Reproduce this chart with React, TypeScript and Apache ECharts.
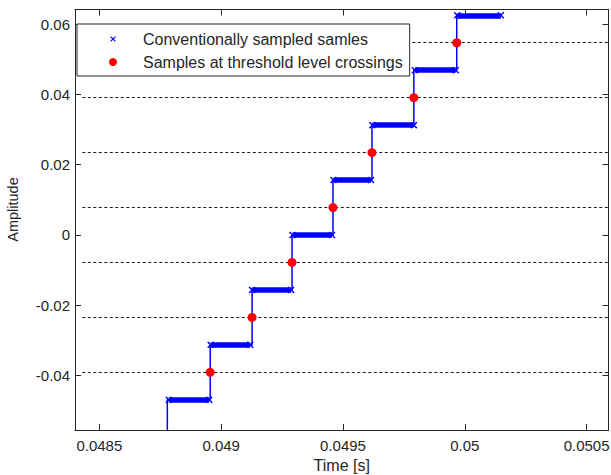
import React, { useEffect, useRef } from 'react';
import * as echarts from 'echarts';

// ---- data ----
const xTicks = [0.0485, 0.049, 0.0495, 0.05, 0.0505];
const yTicks = [-0.04, -0.02, 0, 0.02, 0.04, 0.06];

// quantized signal: level below the view, then the visible step levels
const initialLevel = -0.0625;
const stepLevels = [-0.046875, -0.03125, -0.015625, 0, 0.015625, 0.03125, 0.046875, 0.0625];
const jumpTimes = [0.048779, 0.048955, 0.049127, 0.049291, 0.049459, 0.049619, 0.049791, 0.049967];
const signalEnd = 0.050148;

// conventionally sampled samples: first / last sample time of each level
const sampleStart = [0.048785, 0.048957, 0.049127, 0.049293, 0.049461, 0.049621, 0.049795, 0.049969];
const sampleEnd = [0.048951, 0.049119, 0.049287, 0.049455, 0.049615, 0.049791, 0.049963, 0.050148];

// threshold levels (dashed) and the level-crossing samples
const thresholds = [-0.0390625, -0.0234375, -0.0078125, 0.0078125, 0.0234375, 0.0390625, 0.0546875];
const crossingTimes = [0.048955, 0.049127, 0.049291, 0.049459, 0.049619, 0.049791, 0.049967];

const X_MIN = 0.0484;
const X_MAX = 0.05059;
const Y_MIN = -0.05547;
const Y_MAX = 0.06414;
const DASH_START = 0.04843;

const FONT = 'Liberation Sans, Arial, Helvetica, sans-serif';
const TEXT = '#262626';
const BLUE = '#0000ff';
const RED = '#ff0000';

const X_PATH =
  'path://M0,1.5L1.5,0L5,3.5L8.5,0L10,1.5L6.5,5L10,8.5L8.5,10L5,6.5L1.5,10L0,8.5L3.5,5Z';
const X_LEGEND_PATH =
  'path://M0,0L0.01,0L0,0.01Z M14,14L13.99,14L14,13.99Z M2,3.5L3.5,2L7,5.5L10.5,2L12,3.5L8.5,7L12,10.5L10.5,12L7,8.5L3.5,12L2,10.5L5.5,7Z';

const NAME_CONV = 'Conventionally sampled samles';
const NAME_CROSS = 'Samples at threshold level crossings';

export default function App() {
  const ref = useRef<HTMLDivElement>(null);

  useEffect(() => {
    if (!ref.current) return;
    const chart = echarts.init(ref.current, undefined, { renderer: 'svg' });

    const staircase: number[][] = [[jumpTimes[0], initialLevel]];
    stepLevels.forEach((L, i) => {
      staircase.push([jumpTimes[i], L]);
      staircase.push([i < stepLevels.length - 1 ? jumpTimes[i + 1] : signalEnd, L]);
    });

    const sampleMarks: number[][] = [];
    stepLevels.forEach((L, i) => {
      sampleMarks.push([sampleStart[i], L]);
      sampleMarks.push([sampleEnd[i], L]);
    });

    const axisLineStyle = { color: TEXT, width: 1 };

    chart.setOption({
      animation: false,
      backgroundColor: '#ffffff',
      grid: { left: 75, top: 9.5, width: 533.5, height: 420.5, containLabel: false, outerBoundsMode: 'none' },
      legend: {
        show: true,
        orient: 'vertical',
        left: 77,
        top: 24,
        itemWidth: 50,
        itemHeight: 8,
        itemGap: 7,
        padding: [7, 7, 6, 32],
        borderColor: TEXT,
        borderWidth: 1,
        borderRadius: 0,
        backgroundColor: '#ffffff',
        selectedMode: false,
        textStyle: { fontSize: 16, color: TEXT, fontFamily: FONT },
        data: [
          { name: NAME_CONV, icon: X_LEGEND_PATH },
          { name: NAME_CROSS, icon: 'circle' },
        ],
      },
      xAxis: [
        {
          type: 'value',
          min: X_MIN,
          max: X_MAX,
          position: 'bottom',
          axisLine: { show: true, onZero: false, lineStyle: axisLineStyle },
          axisTick: { show: true, inside: true, length: 6, customValues: xTicks, lineStyle: axisLineStyle },
          axisLabel: {
            show: true,
            customValues: xTicks,
            formatter: (v: number) => String(v),
            color: TEXT,
            fontSize: 15,
            fontFamily: FONT,
            margin: 8,
          },
          splitLine: { show: false },
          name: 'Time [s]',
          nameLocation: 'middle',
          nameGap: 18,
          nameTextStyle: { fontSize: 16, color: TEXT, fontFamily: FONT },
        },
        {
          type: 'value',
          min: X_MIN,
          max: X_MAX,
          position: 'top',
          axisLine: { show: true, onZero: false, lineStyle: axisLineStyle },
          axisTick: { show: true, inside: true, length: 6, customValues: xTicks, lineStyle: axisLineStyle },
          axisLabel: { show: false },
          splitLine: { show: false },
        },
      ],
      yAxis: [
        {
          type: 'value',
          min: Y_MIN,
          max: Y_MAX,
          position: 'left',
          axisLine: { show: true, onZero: false, lineStyle: axisLineStyle },
          axisTick: { show: true, inside: true, length: 6, customValues: yTicks, lineStyle: axisLineStyle },
          axisLabel: {
            show: true,
            customValues: yTicks,
            formatter: (v: number) => String(v),
            color: TEXT,
            fontSize: 15,
            fontFamily: FONT,
            margin: 5,
          },
          splitLine: { show: false },
        },
        {
          type: 'value',
          min: Y_MIN,
          max: Y_MAX,
          position: 'right',
          axisLine: { show: true, onZero: false, lineStyle: axisLineStyle },
          axisTick: { show: true, inside: true, length: 6, customValues: yTicks, lineStyle: axisLineStyle },
          axisLabel: { show: false },
          splitLine: { show: false },
        },
      ],
      graphic: [
        {
          type: 'text',
          x: 12.5,
          y: 209.5,
          rotation: Math.PI / 2,
          silent: true,
          style: {
            text: 'Amplitude',
            fontSize: 14.5,
            fontFamily: FONT,
            fill: TEXT,
            align: 'center',
            verticalAlign: 'middle',
            textAlign: 'center',
            textVerticalAlign: 'middle',
          },
        },
      ],
      series: [
        {
          type: 'lines',
          name: 'thresholds',
          coordinateSystem: 'cartesian2d',
          xAxisIndex: 0,
          yAxisIndex: 0,
          silent: true,
          z: 1,
          lineStyle: { color: '#1a1a1a', width: 1, type: [3, 2.5], opacity: 1, curveness: 0 },
          data: thresholds.map((v) => ({ coords: [[DASH_START, v], [X_MAX, v]] })),
        },
        {
          type: 'lines',
          name: 'sample bars',
          coordinateSystem: 'cartesian2d',
          xAxisIndex: 0,
          yAxisIndex: 0,
          silent: true,
          z: 2,
          lineStyle: { color: BLUE, width: 5.5, opacity: 1, curveness: 0 },
          data: stepLevels.map((L, i) => ({ coords: [[sampleStart[i], L], [sampleEnd[i], L]] })),
        },
        {
          type: 'line',
          name: 'quantized signal',
          xAxisIndex: 0,
          yAxisIndex: 0,
          symbol: 'none',
          clip: true,
          z: 3,
          lineStyle: { color: BLUE, width: 1.5 },
          data: staircase,
        },
        {
          type: 'scatter',
          name: NAME_CONV,
          xAxisIndex: 0,
          yAxisIndex: 0,
          symbol: X_PATH,
          symbolSize: 7,
          z: 4,
          itemStyle: { color: BLUE, opacity: 1 },
          data: sampleMarks,
        },
        {
          type: 'scatter',
          name: NAME_CROSS,
          xAxisIndex: 0,
          yAxisIndex: 0,
          symbol: 'circle',
          symbolSize: 9,
          z: 5,
          itemStyle: { color: RED, opacity: 1 },
          data: crossingTimes.map((t, i) => [t, thresholds[i]]),
        },
      ],
    });

    return () => chart.dispose();
  }, []);

  return (
    <div
      ref={ref}
      style={{ position: 'absolute', left: 0, top: 0, width: 611, height: 475, background: '#fff' }}
    />
  );
}
